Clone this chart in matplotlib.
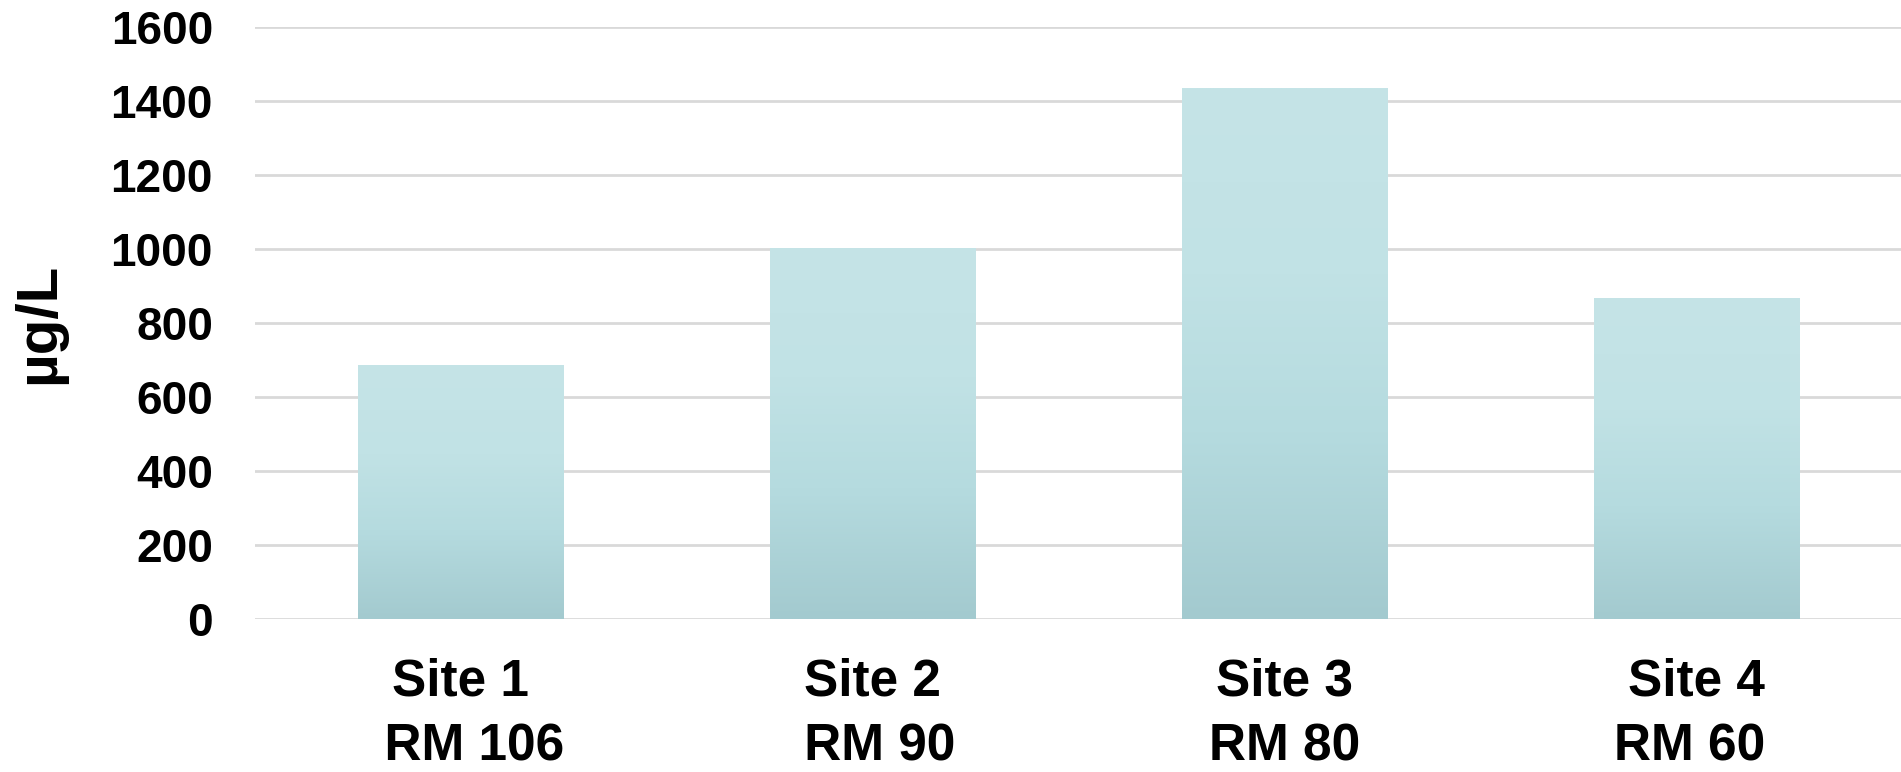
import matplotlib
matplotlib.use("Agg")
import matplotlib.pyplot as plt
import numpy as np
from matplotlib.colors import LinearSegmentedColormap

sites = ["Site 1\n  RM 106", "Site 2\n RM 90", "Site 3\nRM 80", "Site 4\nRM 60 "]
values = [686, 1003, 1435, 868]
yticks = [0, 200, 400, 600, 800, 1000, 1200, 1400, 1600]

plt.rcParams['font.family'] = ['Liberation Sans', 'DejaVu Sans']
plt.rcParams['font.weight'] = 'bold'

fig = plt.figure(figsize=(19.01, 7.72), dpi=100)
ax = fig.add_axes([0.1339, 0.1982, 0.8669, 0.7668])

# vertical gradient used to fill each bar (light at top, darker at bottom)
cmap = LinearSegmentedColormap.from_list(
    "bar", [(0.0, "#a3cacf"), (0.35, "#b5dbdf"), (0.65, "#c1e2e5"), (1.0, "#c5e4e7")])
grad = np.linspace(0, 1, 256).reshape(-1, 1)

width = 0.5
bars = ax.bar(range(len(values)), values, width=width, color="none", zorder=2)
for b in bars:
    x0 = b.get_x()
    h = b.get_height()
    im = ax.imshow(grad, cmap=cmap, origin="lower", aspect="auto",
                   extent=[x0, x0 + width, 0, h], zorder=2)
    im.set_clip_path(b)

ax.set_xlim(-0.5, len(values) - 0.5)
ax.set_ylim(0, 1600)
ax.set_yticks(yticks)
ax.set_xticks(range(len(values)))
ax.set_xticklabels(sites, fontsize=37, fontweight="bold", linespacing=1.42)
ax.tick_params(axis="y", length=0, pad=30, labelsize=33)
ax.tick_params(axis="x", length=0, pad=28)
for t in ax.get_yticklabels():
    t.set_fontweight("bold")

ax.yaxis.grid(True, color="#d9d9d9", linewidth=2, zorder=0)
ax.set_axisbelow(True)
for s in ax.spines.values():
    s.set_visible(False)

ax.set_ylabel("µg/L", fontsize=42, fontweight="bold")
ax.yaxis.set_label_coords(-0.1144, 0.5)

fig.savefig("out.png", dpi=100)
